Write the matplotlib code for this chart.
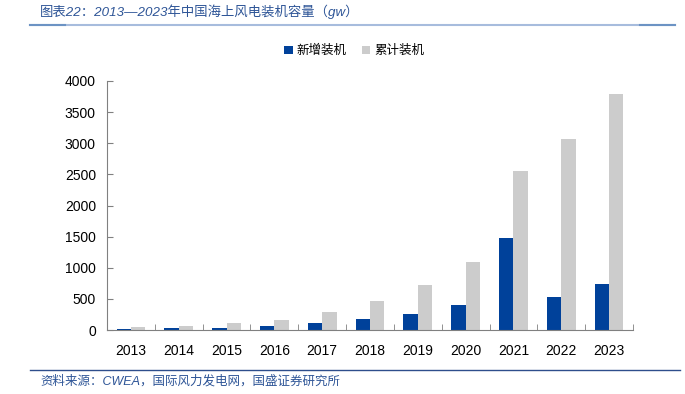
import numpy as np
import matplotlib.pyplot as plt
from matplotlib.lines import Line2D

plt.rcParams['font.family'] = ['Liberation Sans', 'Noto Sans CJK SC', 'DejaVu Sans']

# dữ liệu
years = ['2013', '2014', '2015', '2016', '2017', '2018', '2019', '2020', '2021', '2022', '2023']
new_cap = [15, 30, 40, 65, 120, 180, 260, 400, 1470, 525, 735]
cum_cap = [45, 70, 110, 165, 285, 460, 715, 1100, 2550, 3065, 3785]
yticks = [0, 500, 1000, 1500, 2000, 2500, 3000, 3500, 4000]

blue = '#00419A'
grey = '#CCCCCC'
title_c = '#2E5597'

fig = plt.figure(figsize=(6.85, 3.94), dpi=100)
ax = fig.add_axes([107/685, 1-330/394, (633-107)/685, (330-81)/394])

x = np.arange(len(years))
w = 0.3
ax.bar(x - w/2, new_cap, w, color=blue, label='新增装机')
ax.bar(x + w/2, cum_cap, w, color=grey, label='累计装机')

ax.set_xlim(-0.5, len(years) - 0.5)
ax.set_ylim(0, 4000)
ax.set_yticks(yticks)
ax.set_xticks(x)
ax.set_xticklabels(years)
ax.tick_params(axis='x', length=0, labelsize=10, pad=10)
ax.tick_params(axis='y', direction='in', length=4, color='#808080', labelsize=10, pad=8)
ax.set_xticks(np.arange(len(years) + 1) - 0.5, minor=True)
ax.tick_params(axis='x', which='minor', direction='in', length=4, color='#808080')
for s in ['top', 'right']:
    ax.spines[s].set_visible(False)
for s in ['left', 'bottom']:
    ax.spines[s].set_color('#808080')

leg = ax.legend(loc='lower center', bbox_to_anchor=(0.47, 1.05), ncol=2, frameon=False,
                handlelength=0.7, handleheight=0.7, handletextpad=0.3, columnspacing=1.2,
                prop={'family': ['Noto Sans CJK SC'], 'size': 9})

# tiêu đề và nguồn
fig.text(40/685, 1-12/394, '图表22：2013—2023年中国海上风电装机容量（gw）', color=title_c,
         fontsize=9.6, style='italic', va='center', ha='left',
         family=['Liberation Sans', 'Noto Sans CJK SC'])
fig.add_artist(Line2D([30/685, 675/685], [1-25/394, 1-25/394], color='#A7BCDD', lw=1.5))
fig.add_artist(Line2D([30/685, 65/685], [1-25/394, 1-25/394], color='#6C93C4', lw=1.5))
fig.add_artist(Line2D([640/685, 675/685], [1-25/394, 1-25/394], color='#6C93C4', lw=1.5))
fig.add_artist(Line2D([30/685, 680/685], [1-370/394, 1-370/394], color='#2E4E8C', lw=1))
fig.text(40/685, 1-381/394, '资料来源：CWEA，国际风力发电网，国盛证券研究所', color=title_c,
         fontsize=9, style='italic', va='center', ha='left',
         family=['Liberation Sans', 'Noto Sans CJK SC'])

plt.savefig('out.png', dpi=100)
